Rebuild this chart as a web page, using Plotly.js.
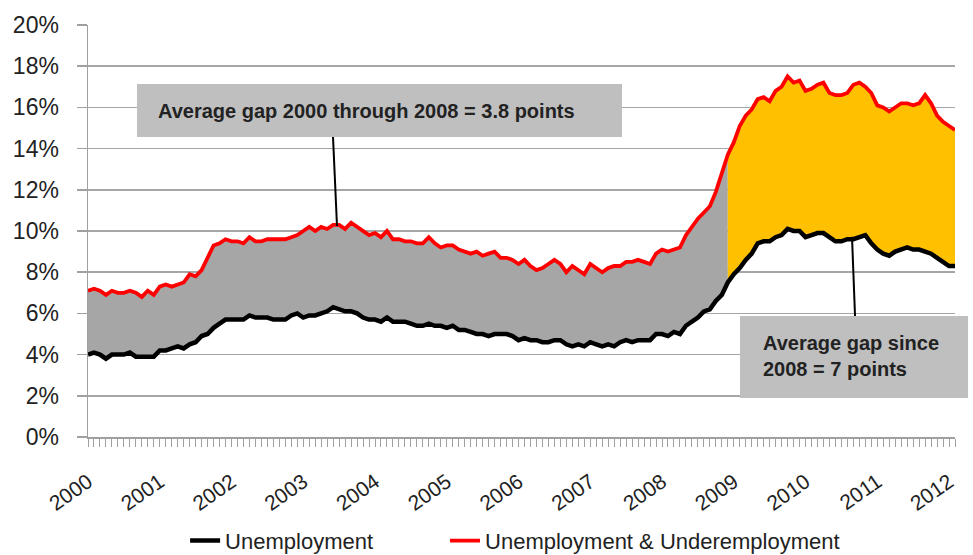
<!DOCTYPE html>
<html>
<head>
<meta charset="utf-8">
<script src="https://cdn.plot.ly/plotly-3.0.1.min.js"></script>
<style>
  html, body { margin: 0; padding: 0; background: #ffffff; }
  #chart { width: 973px; height: 555px; }
</style>
</head>
<body>
<div id="chart"></div>
<script>
// Monthly values, Jan 2000 .. Feb 2012 (percent)
const years = ['2000','2001','2002','2003','2004','2005','2006','2007','2008','2009','2010','2011','2012'];

const unemployment = [
  4.0,4.1,4.0,3.8,4.0,4.0,4.0,4.1,3.9,3.9,3.9,3.9,      // 2000
  4.2,4.2,4.3,4.4,4.3,4.5,4.6,4.9,5.0,5.3,5.5,5.7,      // 2001
  5.7,5.7,5.7,5.9,5.8,5.8,5.8,5.7,5.7,5.7,5.9,6.0,      // 2002
  5.8,5.9,5.9,6.0,6.1,6.3,6.2,6.1,6.1,6.0,5.8,5.7,      // 2003
  5.7,5.6,5.8,5.6,5.6,5.6,5.5,5.4,5.4,5.5,5.4,5.4,      // 2004
  5.3,5.4,5.2,5.2,5.1,5.0,5.0,4.9,5.0,5.0,5.0,4.9,      // 2005
  4.7,4.8,4.7,4.7,4.6,4.6,4.7,4.7,4.5,4.4,4.5,4.4,      // 2006
  4.6,4.5,4.4,4.5,4.4,4.6,4.7,4.6,4.7,4.7,4.7,5.0,      // 2007
  5.0,4.9,5.1,5.0,5.4,5.6,5.8,6.1,6.2,6.6,6.9,7.5,      // 2008
  7.9,8.2,8.6,8.9,9.4,9.5,9.5,9.7,9.8,10.1,10.0,10.0,   // 2009
  9.7,9.8,9.9,9.9,9.7,9.5,9.5,9.6,9.6,9.7,9.8,9.4,      // 2010
  9.1,8.9,8.8,9.0,9.1,9.2,9.1,9.1,9.0,8.9,8.7,8.5,      // 2011
  8.3,8.3                                               // 2012
];

const underemployment = [
  7.1,7.2,7.1,6.9,7.1,7.0,7.0,7.1,7.0,6.8,7.1,6.9,            // 2000
  7.3,7.4,7.3,7.4,7.5,7.9,7.8,8.1,8.7,9.3,9.4,9.6,            // 2001
  9.5,9.5,9.4,9.7,9.5,9.5,9.6,9.6,9.6,9.6,9.7,9.8,            // 2002
  10.0,10.2,10.0,10.2,10.1,10.3,10.3,10.1,10.4,10.2,10.0,9.8, // 2003
  9.9,9.7,10.0,9.6,9.6,9.5,9.5,9.4,9.4,9.7,9.4,9.2,           // 2004
  9.3,9.3,9.1,9.0,8.9,9.0,8.8,8.9,9.0,8.7,8.7,8.6,            // 2005
  8.4,8.6,8.3,8.1,8.2,8.4,8.6,8.4,8.0,8.3,8.1,7.9,            // 2006
  8.4,8.2,8.0,8.2,8.3,8.3,8.5,8.5,8.6,8.5,8.4,8.9,            // 2007
  9.1,9.0,9.1,9.2,9.8,10.2,10.6,10.9,11.2,11.9,12.8,13.7,     // 2008
  14.3,15.1,15.6,15.9,16.4,16.5,16.3,16.8,17.0,17.5,17.2,17.3,// 2009
  16.8,16.9,17.1,17.2,16.7,16.6,16.6,16.7,17.1,17.2,17.0,16.7,// 2010
  16.1,16.0,15.8,16.0,16.2,16.2,16.1,16.2,16.6,16.2,15.6,15.3,// 2011
  15.1,14.9                                                   // 2012
];

// The gap before / after the end of 2008 is shaded differently
const splitIndex = 107; // Dec 2008

const months = unemployment.map((_, i) => i);
const tickVals = years.map((_, k) => k * 12);

const FONT = '"Liberation Sans", Arial, sans-serif';

const traces = [
  { x: months.slice(0, splitIndex + 1), y: unemployment.slice(0, splitIndex + 1),
    mode: 'lines', line: { width: 0, color: 'rgba(0,0,0,0)' }, showlegend: false, hoverinfo: 'skip' },
  { x: months.slice(0, splitIndex + 1), y: underemployment.slice(0, splitIndex + 1),
    mode: 'lines', fill: 'tonexty', fillcolor: '#A6A6A6',
    line: { width: 0, color: 'rgba(0,0,0,0)' }, showlegend: false, hoverinfo: 'skip' },
  { x: months.slice(splitIndex), y: unemployment.slice(splitIndex),
    mode: 'lines', line: { width: 0, color: 'rgba(0,0,0,0)' }, showlegend: false, hoverinfo: 'skip' },
  { x: months.slice(splitIndex), y: underemployment.slice(splitIndex),
    mode: 'lines', fill: 'tonexty', fillcolor: '#FFC000',
    line: { width: 0, color: 'rgba(0,0,0,0)' }, showlegend: false, hoverinfo: 'skip' },
  { x: months, y: unemployment, name: 'Unemployment', mode: 'lines', legend: 'legend',
    line: { color: '#000000', width: 4.5 } },
  { x: months, y: underemployment, name: 'Unemployment & Underemployment', mode: 'lines', legend: 'legend2',
    line: { color: '#FF0000', width: 3.8 } }
];

const legendFont = { family: FONT, size: 22, color: '#222222' };

const layout = {
  width: 973, height: 555,
  margin: { l: 88, r: 18, t: 25, b: 118, autoexpand: false },
  paper_bgcolor: '#ffffff', plot_bgcolor: '#ffffff',
  font: { family: FONT, color: '#222222', size: 20 },
  showlegend: true,
  legend: {
    orientation: 'h', traceorder: 'normal',
    x: 0.112, xanchor: 'left', y: -0.252, yanchor: 'middle',
    font: legendFont, bgcolor: 'rgba(0,0,0,0)'
  },
  legend2: {
    orientation: 'h', traceorder: 'normal',
    x: 0.4118, xanchor: 'left', y: -0.252, yanchor: 'middle',
    font: legendFont, bgcolor: 'rgba(0,0,0,0)'
  },
  xaxis: {
    range: [0, unemployment.length - 1],
    tickvals: tickVals, ticktext: years,
    tickangle: -35,
    ticks: 'outside', ticklen: 8, tickcolor: '#A0A0A0', tickwidth: 1,
    minor: { dtick: 1, tick0: 0, ticks: 'outside', ticklen: 8, tickcolor: '#A0A0A0', tickwidth: 1, showgrid: false },
    showline: true, linecolor: '#A0A0A0', linewidth: 1.5,
    showgrid: false, zeroline: false,
    tickfont: { family: FONT, size: 21, color: '#222222' },
    ticklabelstandoff: 15,
    fixedrange: true
  },
  yaxis: {
    range: [0, 20], dtick: 2, tick0: 0,
    ticksuffix: '%',
    ticks: 'outside', ticklen: 10, tickcolor: '#A0A0A0', tickwidth: 1.5,
    showline: true, linecolor: '#A0A0A0', linewidth: 1.5,
    showgrid: true, gridcolor: '#A6A6A6', gridwidth: 1.5,
    zeroline: false,
    tickfont: { family: FONT, size: 23, color: '#222222' },
    ticklabelstandoff: 13,
    fixedrange: true
  },
  shapes: [
    { type: 'rect', xref: 'paper', yref: 'paper', x0: 0.0565, x1: 0.6159, y0: 0.7282, y1: 0.8568,
      fillcolor: '#BFBFBF', line: { width: 0 }, layer: 'above' },
    { type: 'line', xref: 'paper', yref: 'paper', x0: 0.2826, y0: 0.7282, x1: 0.2872, y1: 0.512,
      line: { color: '#000000', width: 2 } },
    { type: 'rect', xref: 'paper', yref: 'paper', x0: 0.752, x1: 1.015, y0: 0.0947, y1: 0.2937,
      fillcolor: '#BFBFBF', line: { width: 0 }, layer: 'above' },
    { type: 'line', xref: 'paper', yref: 'paper', x0: 0.8812, y0: 0.486, x1: 0.8847, y1: 0.2937,
      line: { color: '#000000', width: 2 } }
  ],
  annotations: [
    { xref: 'paper', yref: 'paper', x: 0.0784, y: 0.7913, xanchor: 'left', yanchor: 'middle',
      text: '<b>Average gap 2000 through 2008 = 3.8 points</b>', showarrow: false, align: 'left',
      font: { family: FONT, size: 20, color: '#222222' } },
    { xref: 'paper', yref: 'paper', x: 0.7762, y: 0.1966, xanchor: 'left', yanchor: 'middle',
      text: '<b>Average gap since<br>2008 = 7 points</b>', showarrow: false, align: 'left',
      font: { family: FONT, size: 20, color: '#222222' } }
  ]
};

Plotly.newPlot('chart', traces, layout, { displayModeBar: false, staticPlot: true });
</script>
</body>
</html>
